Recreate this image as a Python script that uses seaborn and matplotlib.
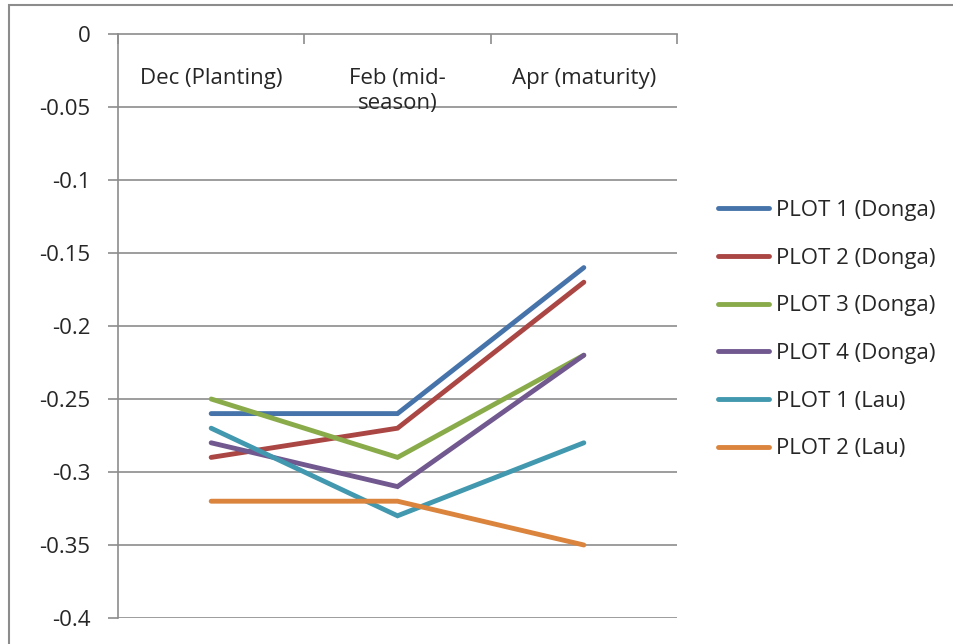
import seaborn as sns
import matplotlib.pyplot as plt
import pandas as pd
import numpy as np
from matplotlib.patches import Rectangle

# Data
categories = ['Dec (Planting)', 'Feb (mid-\nseason)', 'Apr (maturity)']
series_names = ['PLOT 1 (Donga)', 'PLOT 2 (Donga)', 'PLOT 3 (Donga)',
                'PLOT 4 (Donga)', 'PLOT 1 (Lau)', 'PLOT 2 (Lau)']
plot1_donga = [-0.26, -0.26, -0.16]
plot2_donga = [-0.29, -0.27, -0.17]
plot3_donga = [-0.25, -0.29, -0.22]
plot4_donga = [-0.28, -0.31, -0.22]
plot1_lau = [-0.27, -0.33, -0.28]
plot2_lau = [-0.32, -0.32, -0.35]
yticks = [0, -0.05, -0.1, -0.15, -0.2, -0.25, -0.3, -0.35, -0.4]
ytick_labels = ['0', '-0.05', '-0.1', '-0.15', '-0.2', '-0.25', '-0.3', '-0.35', '-0.4']

colors = ['#4674AA', '#AA4643', '#8AAB4A', '#71588F', '#4198AF', '#DB843D']

all_values = [plot1_donga, plot2_donga, plot3_donga, plot4_donga, plot1_lau, plot2_lau]
rows = []
for name, vals in zip(series_names, all_values):
    for i, v in enumerate(vals):
        rows.append({'Series': name, 'pos': i, 'Value': v})
df = pd.DataFrame(rows)

sns.set_style('white')
plt.rcParams['font.family'] = ['Open Sans', 'DejaVu Sans']
plt.rcParams['axes.unicode_minus'] = False
fs = 16
lw = 3.5

fig = plt.figure(figsize=(9.54, 6.44), dpi=100)
ax = fig.add_axes([118 / 954, 1 - 618 / 644, (677 - 118) / 954, (618 - 34) / 644])

sns.lineplot(data=df, x='pos', y='Value', hue='Series', hue_order=series_names,
             palette=colors, linewidth=lw, sort=False, ax=ax,
             solid_capstyle='round', solid_joinstyle='miter')

ax.set_xlim(-0.5, 2.5)
ax.set_ylim(-0.4, 0)
ax.set_yticks(yticks)
ax.set_yticklabels(ytick_labels, fontsize=fs)
ax.set_xlabel('')
ax.set_ylabel('')

grid_col = '#8C8C8C'
for y in yticks[1:]:
    ax.axhline(y, color=grid_col, lw=1.2, zorder=0)
for s in ['right', 'bottom']:
    ax.spines[s].set_visible(False)
for s in ['left', 'top']:
    ax.spines[s].set_color(grid_col)
    ax.spines[s].set_linewidth(1.2)

ax.tick_params(axis='y', direction='out', length=7, width=1.2, color=grid_col, pad=13, left=True)
# category boundary ticks on the top axis
ax.set_xticks([-0.5, 0.5, 1.5, 2.5])
ax.set_xticklabels([])
ax.tick_params(axis='x', direction='in', length=7, width=1.2, color=grid_col,
               top=True, bottom=False, labeltop=False, labelbottom=False)

for i, lab in enumerate(categories):
    ax.text(i, -0.0233, lab, ha='center', va='top', fontsize=fs, linespacing=1.22)

leg = ax.legend(loc='upper left', bbox_to_anchor=(698 / 954, 1 - 180 / 644),
                bbox_transform=fig.transFigure, frameon=False, fontsize=fs,
                handlelength=2.3, handletextpad=0.32, labelspacing=1.2)
for line in leg.get_lines():
    line.set_linewidth(lw)
    line.set_solid_capstyle('round')

fig.patches.append(Rectangle((9 / 954, -0.1), 1.2, 1.1 - 5 / 644, transform=fig.transFigure,
                             fill=False, edgecolor=grid_col, lw=1.5))

fig.savefig('out.png', dpi=100)
